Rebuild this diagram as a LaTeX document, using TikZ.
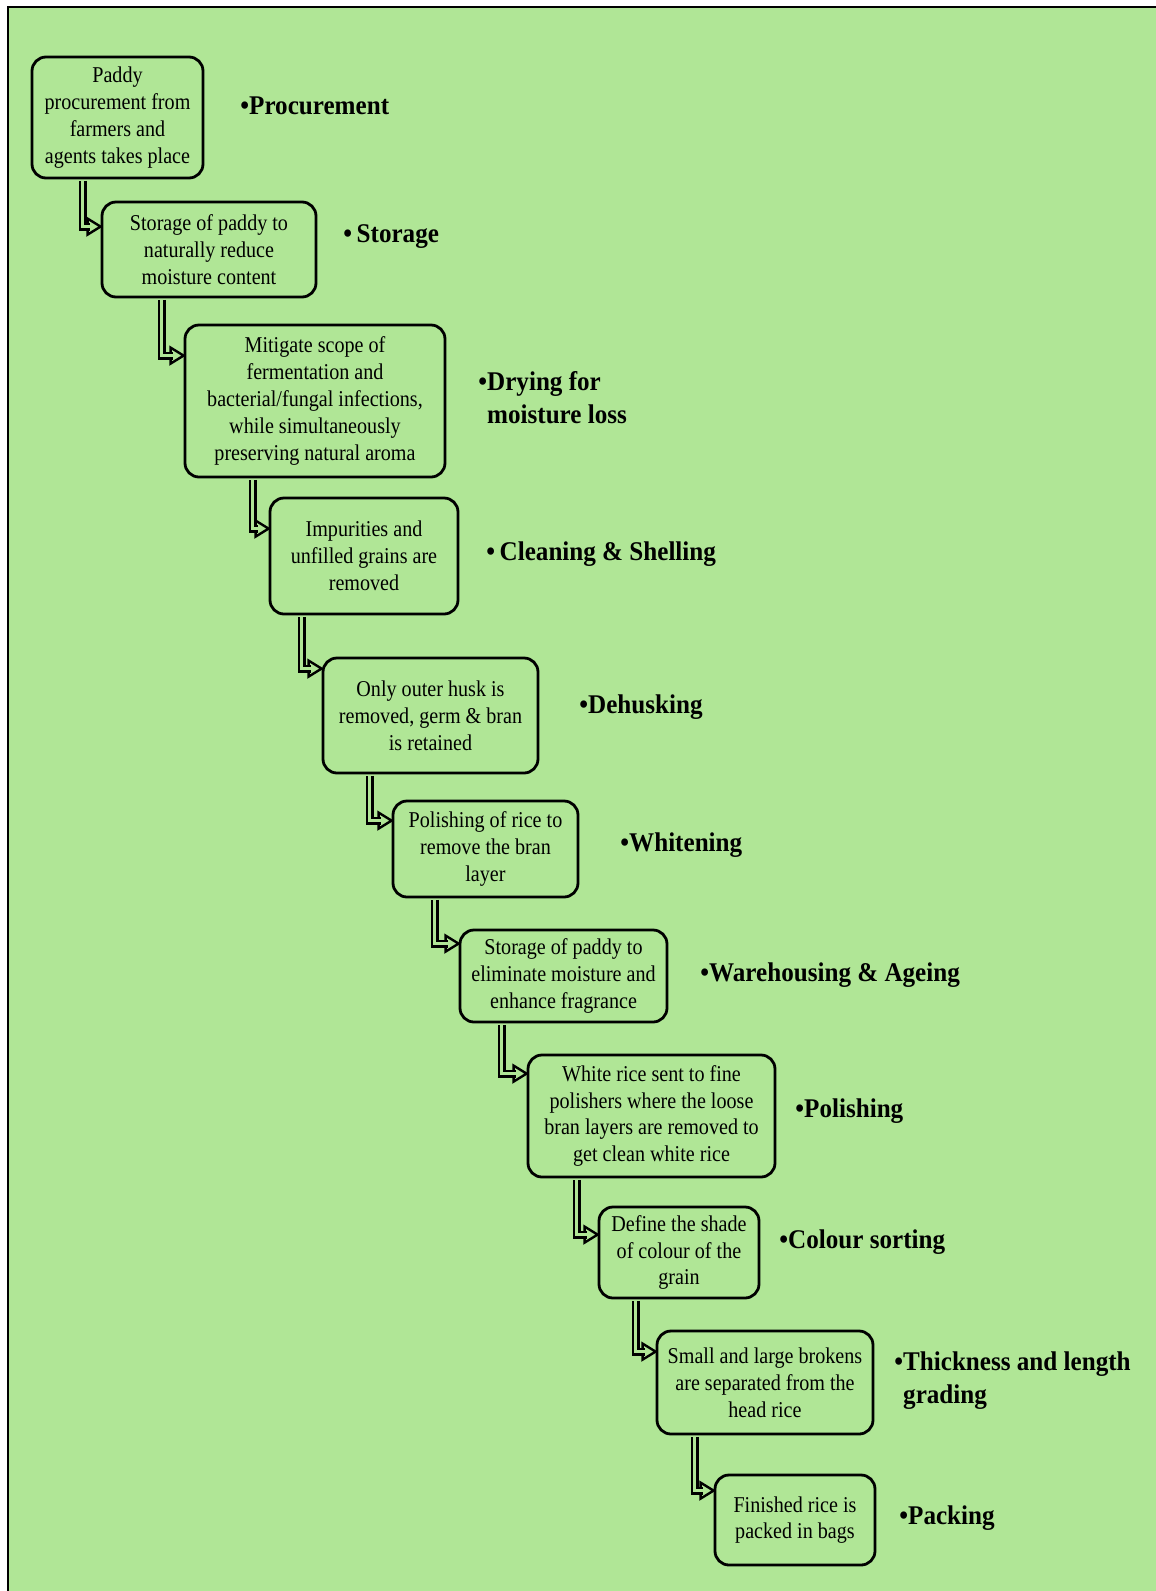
\documentclass[tikz,border=0pt]{standalone}
\usepackage{fontspec}
\setmainfont{Liberation Serif}[FakeStretch=0.89]
\newfontfamily\labelfont{Liberation Serif}[FakeStretch=0.93]
\usetikzlibrary{calc}
\definecolor{bg}{RGB}{176,230,150}
\tikzset{
  stepbox/.style={draw=black, line width=1.4pt, fill=bg, rounded corners=7pt,
    inner sep=0pt, align=center, font=\fontsize{11.3}{13.4}\selectfont},
  stagelabel/.style={anchor=west, inner sep=0pt, align=left,
    font=\labelfont\bfseries\fontsize{13.5}{16.5}\selectfont},
  shaft/.style={draw=black, line width=1.2pt, double=bg, double distance=1.6pt},
  head/.style={draw=black, fill=bg, line width=1.2pt, line join=miter},
}
% hollow elbow arrow: from box #1 (shaft #2 units in from its left side)
% down and right into box #3 (#4 units below its top)
\newcommand{\steparrow}[4]{%
  \draw[head] ($(#3.north west)+(-13,#4-8)$) -- ($(#3.north west)+(0,#4)$)
     -- ($(#3.north west)+(-13,#4+8)$) -- cycle;
  \draw[shaft] ($(#1.south west)+(#2,1.5)$) |- ($(#3.north west)+(-11,#4)$);
}
\begin{document}
\begin{tikzpicture}[x=0.5pt, y=-0.5pt]
\useasboundingbox (0,0) rectangle (1156,1591);
\fill[white] (0,0) rectangle (1156,1591);
\fill[bg] (8,7) rectangle (1156,1591);
\draw[line width=1pt] (8,1591) -- (8,7) -- (1156,7);

% process steps
\node[stepbox, minimum width=85.5pt, minimum height=60.5pt] (b1) at (117.5,117.5)
  {Paddy\\procurement from\\farmers and\\agents takes place};
\node[stepbox, minimum width=107pt, minimum height=47.5pt] (b2) at (209,249.5)
  {Storage of paddy to\\naturally reduce\\moisture content};
\node[stepbox, minimum width=130pt, minimum height=76pt] (b3) at (315,401)
  {Mitigate scope of\\fermentation and\\bacterial/fungal infections,\\while simultaneously\\preserving natural aroma};
\node[stepbox, minimum width=94pt, minimum height=58pt] (b4) at (364,556)
  {Impurities and\\unfilled grains are\\removed};
\node[stepbox, minimum width=107.5pt, minimum height=57.5pt] (b5) at (430.5,715.5)
  {Only outer husk is\\removed, germ \& bran\\is retained};
\node[stepbox, minimum width=92.5pt, minimum height=48pt] (b6) at (485.5,849)
  {Polishing of rice to\\remove the bran\\layer};
\node[stepbox, minimum width=103.5pt, minimum height=46pt] (b7) at (563.5,976)
  {Storage of paddy to\\eliminate moisture and\\enhance fragrance};
\node[stepbox, minimum width=123.5pt, minimum height=61pt] (b8) at (651.5,1116)
  {White rice sent to fine\\polishers where the loose\\bran layers are removed to\\get clean white rice};
\node[stepbox, minimum width=80pt, minimum height=45.5pt] (b9) at (679,1252.5)
  {Define the shade\\of colour of the\\grain};
\node[stepbox, minimum width=108pt, minimum height=51.5pt] (b10) at (765,1382.5)
  {Small and large brokens\\are separated from the\\head rice};
\node[stepbox, minimum width=80pt, minimum height=45pt] (b11) at (795,1520)
  {Finished rice is\\packed in bags};

% connectors
\steparrow{b1}{52}{b2}{26}
\steparrow{b2}{61}{b3}{32}
\steparrow{b3}{69}{b4}{32}
\steparrow{b4}{33}{b5}{12}
\steparrow{b5}{48}{b6}{21}
\steparrow{b6}{43}{b7}{15}
\steparrow{b7}{43}{b8}{20}
\steparrow{b8}{50}{b9}{29}
\steparrow{b9}{38}{b10}{22}
\steparrow{b10}{39}{b11}{17}

% stage names
\node[stagelabel] (l1) at (240,106) {•Procurement};
\node[stagelabel] (l2) at (343,237) {•\,Storage};
\node[stagelabel] (l3) at (478,398) {•Drying for\\\hphantom{•}moisture loss};
\node[stagelabel] (l4) at (486,554) {•\,Cleaning \& Shelling};
\node[stagelabel] (l5) at (579,707) {•Dehusking};
\node[stagelabel] (l6) at (620,845) {•Whitening};
\node[stagelabel] (l7) at (700,975) {•Warehousing \& Ageing};
\node[stagelabel] (l8) at (795,1111) {•Polishing};
\node[stagelabel] (l9) at (779,1242) {•Colour sorting};
\node[stagelabel] (l10) at (894,1381) {•Thickness and length\\\hphantom{•}grading};
\node[stagelabel] (l11) at (899,1518) {•Packing};
\end{tikzpicture}
\end{document}
